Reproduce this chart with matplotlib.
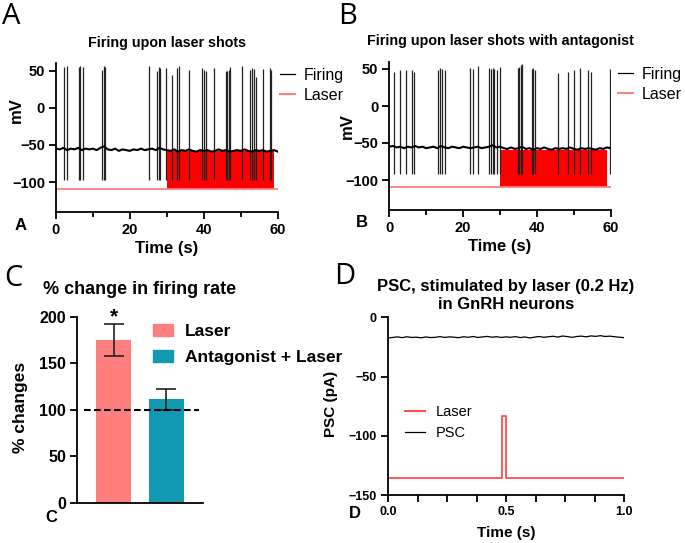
import numpy as np
import matplotlib.pyplot as plt
from matplotlib.lines import Line2D
from matplotlib.patches import Patch
from matplotlib.ticker import MultipleLocator

plt.rcParams['font.family'] = ['Liberation Sans', 'DejaVu Sans']

# ---- Panel A: firing upon laser shots ----
spikes_a = [2.1, 3.0, 6.2, 6.6, 7.4, 12.4, 12.9, 13.3, 25.1, 27.4, 27.8, 28.2,
            29.7, 31.4, 32.7, 33.2, 36.1, 39.6, 40.1, 40.5, 42.7, 45.9, 46.3,
            46.7, 47.2, 50.3, 52.6, 53.1, 53.6, 54.0, 56.1, 57.8, 58.2]
peaks_a = [55, 56, 55, 56, 55, 51, 57, 55, 56, 49, 55, 54, 54, 44, 53, 56, 51,
           53, 51, 49, 53, 49, 50, 51, 55, 57, 51, 53, 52, 42, 52, 53, 51]
trough_a = -97
# membrane potential sampled every second (0..60 s)
base_a = [-55, -56, -54, -57, -55, -56, -54, -57, -55, -56, -55, -57, -54, -52,
          -56, -57, -55, -58, -56, -57, -58, -56, -57, -55, -57, -56, -55, -57,
          -54, -56, -57, -58, -56, -59, -57, -58, -56, -58, -59, -57, -58, -57,
          -59, -58, -56, -58, -57, -59, -58, -57, -58, -56, -58, -59, -57, -58,
          -57, -59, -58, -57, -59]

# ---- Panel B: with antagonist ----
spikes_b = [1.3, 3.0, 4.4, 6.1, 6.6, 13.1, 13.7, 14.2, 15.0, 21.9, 22.7, 24.1,
            27.0, 27.6, 28.1, 28.5, 29.1, 30.0, 34.8, 35.2, 35.6, 36.0, 38.7,
            39.0, 39.4, 45.7, 48.3, 50.0, 51.8, 53.8, 54.7, 59.7]
peaks_b = [46, 48, 48, 48, 46, 48, 51, 50, 48, 51, 50, 54, 51, 50, 51, 50, 48,
           53, 51, 53, 56, 57, 50, 51, 49, 45, 46, 48, 51, 49, 46, 50]
trough_b = -92
base_b = [-55, -54, -56, -55, -57, -55, -56, -54, -56, -55, -57, -56, -55, -57,
          -54, -56, -57, -55, -56, -57, -55, -56, -57, -56, -55, -57, -56, -55,
          -53, -56, -55, -57, -58, -56, -58, -57, -55, -58, -57, -59, -57, -58,
          -56, -58, -59, -57, -58, -57, -58, -56, -58, -59, -57, -58, -57, -58,
          -59, -57, -58, -56, -57]

# laser pulse train (dense pulses drawn as a block)
laser_start, laser_end = 30, 59
laser_low = -110
laser_top_a, laser_top_b = -58, -59

# ---- Panel C: % change in firing rate ----
groups = ['Laser', 'Antagonist + Laser']
pct_change = [175, 111]
pct_err = [17, 11]
bar_colors = ['#FF7F7F', '#1199B2']

# ---- Panel D: PSC stimulated by laser (0.2 Hz) ----
psc = [-17.5, -17.0, -16.5, -17.2, -16.4, -17.0, -16.8, -17.3, -16.6, -17.1,
       -16.9, -16.3, -17.0, -16.5, -16.8, -17.2, -16.4, -16.9, -16.2, -17.0,
       -16.6, -16.1, -16.8, -16.4, -17.0, -16.5, -16.9, -16.3, -17.1, -16.6,
       -17.4, -16.8, -16.2, -16.9, -16.4, -16.0, -16.7, -15.8, -16.3, -16.9,
       -16.2, -15.9, -16.5, -15.7, -16.1, -15.5, -16.2, -15.9, -16.4, -16.8,
       -17.2]
laser_d_base, laser_d_peak = -136, -83.5
pulse_on, pulse_off = 0.485, 0.498

W, H = 685, 543


def box(x0, y0, x1, y1):
    # pixel box -> figure fraction rect
    return [x0 / W, 1 - y1 / H, (x1 - x0) / W, (y1 - y0) / H]


def style(ax, lsize):
    for s in ['top', 'right']:
        ax.spines[s].set_visible(False)
    for s in ['left', 'bottom']:
        ax.spines[s].set_linewidth(1.3)
    ax.tick_params(which='both', direction='out', length=5, width=1.3,
                   labelsize=lsize, pad=3)
    ax.tick_params(which='minor', length=3.5)
    for lab in ax.get_xticklabels() + ax.get_yticklabels():
        lab.set_fontweight('bold')


fig = plt.figure(figsize=(6.85, 5.43), dpi=100)


def trace_panel(rect, spikes, peaks, trough, base, top, title):
    ax = fig.add_axes(rect)
    ax.fill_between([laser_start, laser_end], laser_low, top, color='#FF0000',
                    lw=0, zorder=1)
    ax.plot([0, 60], [laser_low, laser_low], color='#FF8080', lw=1.3, zorder=1)
    ax.vlines(spikes, trough, peaks, color='#222222', lw=0.9, zorder=2)
    ax.plot(np.arange(len(base)), base, color='black', lw=1.5, zorder=3)
    ax.set_xlim(0, 60)
    ax.set_ylim(-140, 60)
    ax.set_xticks([0, 20, 40, 60])
    ax.xaxis.set_minor_locator(MultipleLocator(10))
    ax.set_yticks([-100, -50, 0, 50])
    ax.set_title(title, fontsize=10.3, fontweight='bold', pad=12)
    ax.set_xlabel('Time (s)', fontsize=12, fontweight='bold', labelpad=3)
    style(ax, 10.5)
    return ax


ax_a = trace_panel(box(56, 63.3, 277.7, 211.7), spikes_a, peaks_a, trough_a,
                   base_a, laser_top_a, 'Firing upon laser shots')
ax_b = trace_panel(box(389.3, 61.6, 610.7, 209.6), spikes_b, peaks_b, trough_b,
                   base_b, laser_top_b, 'Firing upon laser shots with antagonist')
fig.text(16 / W, 1 - 110 / H, 'mV', rotation=90, ha='center', va='center',
         fontsize=12, fontweight='bold')
fig.text(347 / W, 1 - 126 / H, 'mV', rotation=90, ha='center', va='center',
         fontsize=12, fontweight='bold')

trace_handles = [Line2D([], [], color='black', lw=0.9),
                 Line2D([], [], color='#FF8080', lw=1.5)]
for lx, ly in [(280, 68), (618, 67)]:
    fig.legend(trace_handles, ['Firing', 'Laser'], loc='upper left',
               bbox_to_anchor=(lx / W, 1 - ly / H), frameon=False,
               fontsize=11.5, handlelength=0.95, handletextpad=0.55,
               labelspacing=0.3, borderpad=0, borderaxespad=0)

# ---- Panel C ----
ax_c = fig.add_axes(box(77, 316.7, 203, 502.7))
xpos = np.arange(len(groups))
ax_c.bar(xpos, pct_change, width=0.66, color=bar_colors, zorder=2)
ax_c.errorbar(xpos, pct_change, yerr=pct_err, fmt='none', ecolor='#222222',
              elinewidth=1.2, capsize=7, capthick=1.2, zorder=3)
ax_c.plot([-0.557, 1.613], [100, 100], color='black', lw=1.5,
          dashes=(3.2, 1.6), zorder=4)
ax_c.text(xpos[0], pct_change[0] + pct_err[0] - 2, '*', ha='center',
          va='bottom', fontsize=15, fontweight='bold')
ax_c.set_xlim(-0.69, 1.69)
ax_c.set_ylim(0, 200)
ax_c.set_xticks([])
ax_c.set_yticks([0, 50, 100, 150, 200])
ax_c.set_title('% change in firing rate', fontsize=13, fontweight='bold', pad=16)
fig.text(21 / W, 1 - 407 / H, '% changes', rotation=90, ha='center',
         va='center', fontsize=12.5, fontweight='bold')
style(ax_c, 11.5)
ax_c.spines['bottom'].set_bounds(-0.69, 1.69)
bar_handles = [Patch(color=c) for c in bar_colors]
fig.legend(bar_handles, groups, loc='upper left',
           bbox_to_anchor=(153 / W, 1 - 324 / H), frameon=False,
           prop={'size': 12.5, 'weight': 'bold'}, handlelength=1.15,
           handleheight=0.7, handletextpad=0.7, labelspacing=0.62,
           borderpad=0, borderaxespad=0)

# ---- Panel D ----
ax_d = fig.add_axes(box(388, 317.3, 624, 495))
t_psc = np.linspace(0, 1, len(psc))
ax_d.plot(t_psc, psc, color='black', lw=0.9, zorder=3)
laser_t = [0, pulse_on, pulse_on, pulse_off, pulse_off, 1.0]
laser_v = [laser_d_base, laser_d_base, laser_d_peak, laser_d_peak,
           laser_d_base, laser_d_base]
ax_d.plot(laser_t, laser_v, color='#FF4D4D', lw=1.3, zorder=2)
ax_d.set_xlim(0, 1)
ax_d.set_ylim(-150, 0)
ax_d.set_xticks([0, 0.5, 1.0])
ax_d.set_xticklabels(['0.0', '0.5', '1.0'])
ax_d.xaxis.set_minor_locator(MultipleLocator(0.125))
ax_d.set_yticks([-150, -100, -50, 0])
ax_d.set_title('PSC, stimulated by laser (0.2 Hz)\nin GnRH neurons',
               fontsize=12, fontweight='bold', pad=6, linespacing=1.25)
ax_d.set_xlabel('Time (s)', fontsize=11, fontweight='bold', labelpad=6)
fig.text(331 / W, 1 - 404 / H, 'PSC (pA)', rotation=90, ha='center',
         va='center', fontsize=11, fontweight='bold')
style(ax_d, 9)
ax_d.tick_params(which='minor', length=5)
ax_d.legend([Line2D([], [], color='#FF4D4D', lw=1.5),
             Line2D([], [], color='black', lw=0.9)], ['Laser', 'PSC'],
            loc='upper left', bbox_to_anchor=(405 / W, 1 - 405 / H),
            bbox_transform=fig.transFigure, frameon=False, fontsize=10.5,
            handlelength=1.35, handletextpad=0.75, labelspacing=0.5,
            borderpad=0, borderaxespad=0)

# ---- panel letters ----
for txt, x, y in [('A', 11, 16), ('B', 348, 16), ('C', 13, 279), ('D', 345, 276)]:
    fig.text(x / W, 1 - y / H, txt, ha='center', va='center', fontsize=21,
             family='Open Sans')
for txt, x, y in [('A', 21, 226), ('B', 362, 222), ('C', 51, 517), ('D', 355, 513)]:
    fig.text(x / W, 1 - y / H, txt, ha='center', va='center', fontsize=12,
             fontweight='bold')

fig.savefig('out.png', dpi=100)
